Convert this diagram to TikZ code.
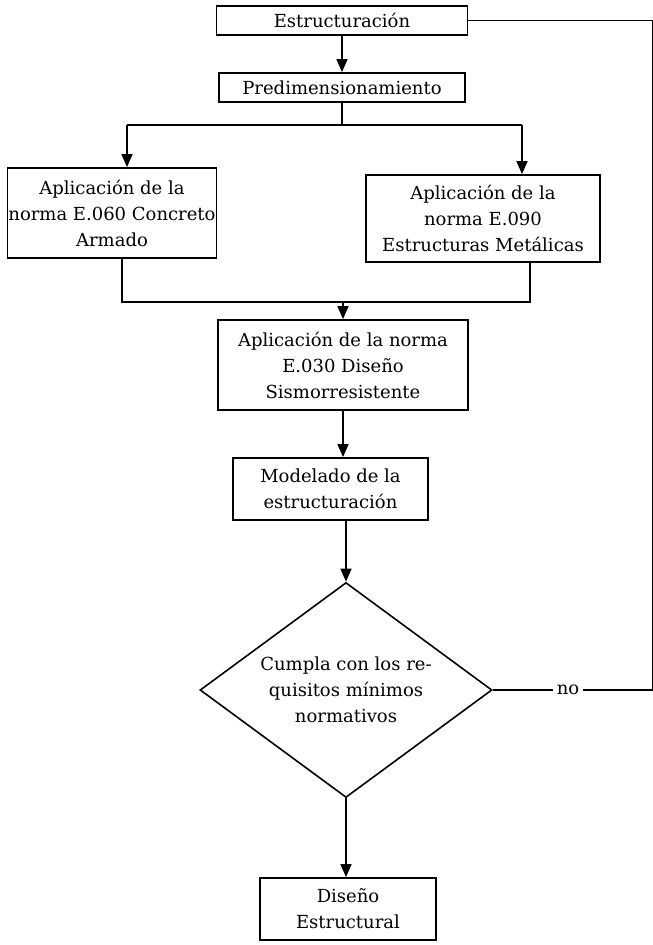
\documentclass[tikz,border=0pt]{standalone}
\usepackage{fontspec}
\setmainfont{DejaVu Serif}
\usepackage{tikz}
\usetikzlibrary{positioning,shapes.geometric,arrows.meta}
\tikzset{pbox/.style={rectangle,draw,line width=1.8pt,align=center,inner sep=1pt},
	 dbox/.style={diamond,draw,line width=1.6pt,align=center,inner sep=0pt,aspect=1.4,minimum width=292pt,minimum height=215pt},
	 arr/.style={line width=1.6pt,-{Triangle[length=13pt,width=11pt]}},
	 lnk/.style={line width=1.6pt},
	 node distance = 1
	 }

\begin{document}
\begin{tikzpicture}[x=1pt,y=-1pt,font=\fontsize{18}{26}\selectfont]% flujo de diseno
        \useasboundingbox (0,0) rectangle (653,945);
        \node[pbox,minimum width=251pt,minimum height=29pt] (est) at (342,20.5) {Estructuración};
        \node[pbox,minimum width=246pt,minimum height=29pt] (pre) at (342,87.5) {Predimensionamiento};
        \node[pbox,minimum width=208pt,minimum height=90pt] (e060) at (112,213) {Aplicación de la\\norma E.060 Concreto\\Armado};
        \node[pbox,minimum width=234pt,minimum height=87pt] (e090) at (483,218.5) {Aplicación de la\\norma E.090\\Estructuras Metálicas};
        \node[pbox,minimum width=250pt,minimum height=90pt] (e030) at (343,365) {Aplicación de la norma\\E.030 Diseño\\Sismorresistente};
        \node[pbox,minimum width=195pt,minimum height=62pt] (mod) at (330.5,489) {Modelado de la\\estructuración};
        \node[dbox] (cum) at (346,690) {Cumpla con los re-\\quisitos mínimos\\normativos};
        \node[pbox,minimum width=176pt,minimum height=62pt] (dis) at (348,909) {Diseño\\Estructural};
        \coordinate (sp) at (342,125);
        \coordinate (spL) at (127,125);
        \coordinate (spR) at (522,125);
        \coordinate (jL) at (122,302);
        \coordinate (jR) at (530,302);
        \coordinate (jn) at (343,302);
        \coordinate (ret) at (653,690);
        \coordinate (top) at (653,20.5);
        \draw[arr] (est) to (pre);
        \draw[lnk] (pre) to (sp);
        \draw[lnk] (spL) to (spR);
        \draw[arr] (spL) to (spL |- e060.north);
        \draw[arr] (spR) to (spR |- e090.north);
        \draw[lnk] (jL |- e060.south) to (jL) to (jR) to (jR |- e090.south);
        \draw[arr] (jn) to (e030);
        \draw[arr] (e030.south) to (e030.south |- mod.north);
        \draw[arr] (mod.south -| cum.north) to (cum.north);
        \draw[arr] (cum.south) to (cum.south |- dis.north);
        \draw[lnk] (cum.east) to node[pos=0.47,fill=white,inner sep=4pt] {no} (ret) to (top) to (est.east);
     \end{tikzpicture}
\end{document}
